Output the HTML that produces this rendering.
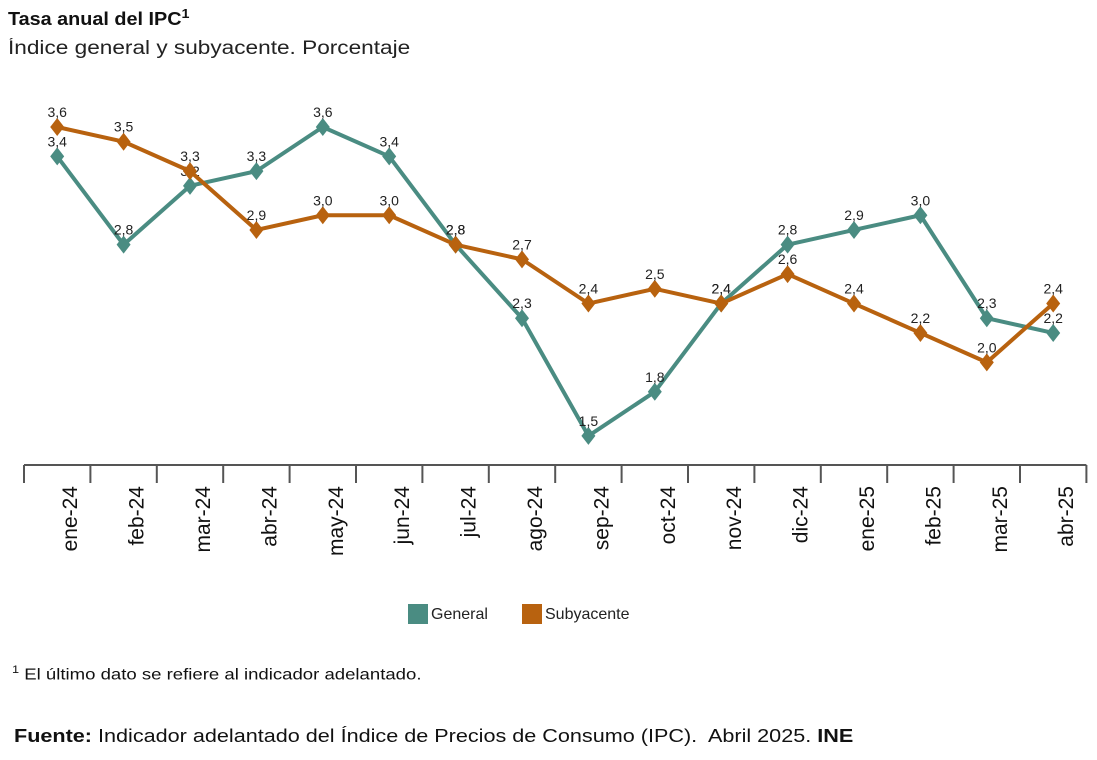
<!DOCTYPE html>
<html><head><meta charset="utf-8"><style>
body{margin:0;background:#fff;font-family:"Liberation Sans",sans-serif;}
#wrap{position:relative;width:1097px;height:760px;overflow:hidden;}
.t{position:absolute;color:#111;white-space:nowrap;transform-origin:0 0;}
</style></head><body><div id="wrap">
<div class="t" style="left:8px;top:6px;font-size:18px;font-weight:bold;transform:scaleX(1.1);">Tasa anual del IPC<sup style="font-size:13px">1</sup></div>
<div class="t" style="left:8px;top:38px;font-size:19px;color:#222;transform:scaleX(1.19);">Índice general y subyacente. Porcentaje</div>
<svg id="chart" width="1097" height="760" style="position:absolute;left:0;top:0"></svg>
<div class="t" style="left:12px;top:664px;font-size:16px;transform:scaleX(1.16);"><sup style="font-size:11px">1</sup> El último dato se refiere al indicador adelantado.</div>
<div class="t" style="left:14px;top:726px;font-size:18px;transform:scaleX(1.2);"><b>Fuente:</b> Indicador adelantado del Índice de Precios de Consumo (IPC).&nbsp; Abril 2025. <b>INE</b></div>
</div>
<script>
const categories=["ene-24","feb-24","mar-24","abr-24","may-24","jun-24","jul-24","ago-24","sep-24","oct-24","nov-24","dic-24","ene-25","feb-25","mar-25","abr-25"];
const generalValues=[3.4,2.8,3.2,3.3,3.6,3.4,2.8,2.3,1.5,1.8,2.4,2.8,2.9,3.0,2.3,2.2];
const subyacenteValues=[3.6,3.5,3.3,2.9,3.0,3.0,2.8,2.7,2.4,2.5,2.4,2.6,2.4,2.2,2.0,2.4];
const NS="http://www.w3.org/2000/svg";
const svg=document.getElementById('chart');
const x0=24,step=66.4,axisY=465;
const xs=i=>x0+step*(i+0.5);
const ys=v=>127+(3.6-v)*147.1;
function mk(t,a){const e=document.createElementNS(NS,t);for(const k in a)e.setAttribute(k,a[k]);svg.appendChild(e);return e;}
const ax=mk('line',{x1:x0,x2:x0+step*16,y1:axisY,y2:axisY,stroke:'#555','stroke-width':2});


for(let i=0;i<=16;i++){const tk=mk('line',{x1:x0+step*i,x2:x0+step*i,y1:axisY,y2:axisY+18,stroke:'#555','stroke-width':2});

}
categories.forEach((c,i)=>{const cx=xs(i)+20;const t=mk('text',{x:cx,y:486,transform:`rotate(-90 ${cx} 486)`,'text-anchor':'end','font-size':21,fill:'#111','font-family':'Liberation Sans, sans-serif'});t.textContent=c;

});
function series(vals,color,name){
 const p=mk('polyline',{points:vals.map((v,i)=>xs(i)+','+ys(v)).join(' '),fill:'none',stroke:color,'stroke-width':4,'stroke-linejoin':'round'});
 
 
 vals.forEach((v,i)=>{const x=xs(i),y=ys(v);
  const m=mk('polygon',{points:`${x},${y-9} ${x+7},${y} ${x},${y+9} ${x-7},${y}`,fill:color});
  
  
  const t=mk('text',{x:x,y:y-10,'text-anchor':'middle','font-size':14,fill:'#222','font-family':'Liberation Sans, sans-serif'});
  t.textContent=v.toFixed(1).replace('.',',');
  
  });
}
series(generalValues,'#4a8c82','general');
series(subyacenteValues,'#b8620f','subyacente');
const lg=[['General','#4a8c82',408],['Subyacente','#b8620f',522]];
lg.forEach(([n,c,x])=>{const r=mk('rect',{x:x,y:604,width:20,height:20,fill:c});


const t=mk('text',{x:x+23,y:619,'font-size':16,fill:'#222','font-family':'Liberation Sans, sans-serif'});t.textContent=n;

});
</script></body></html>
